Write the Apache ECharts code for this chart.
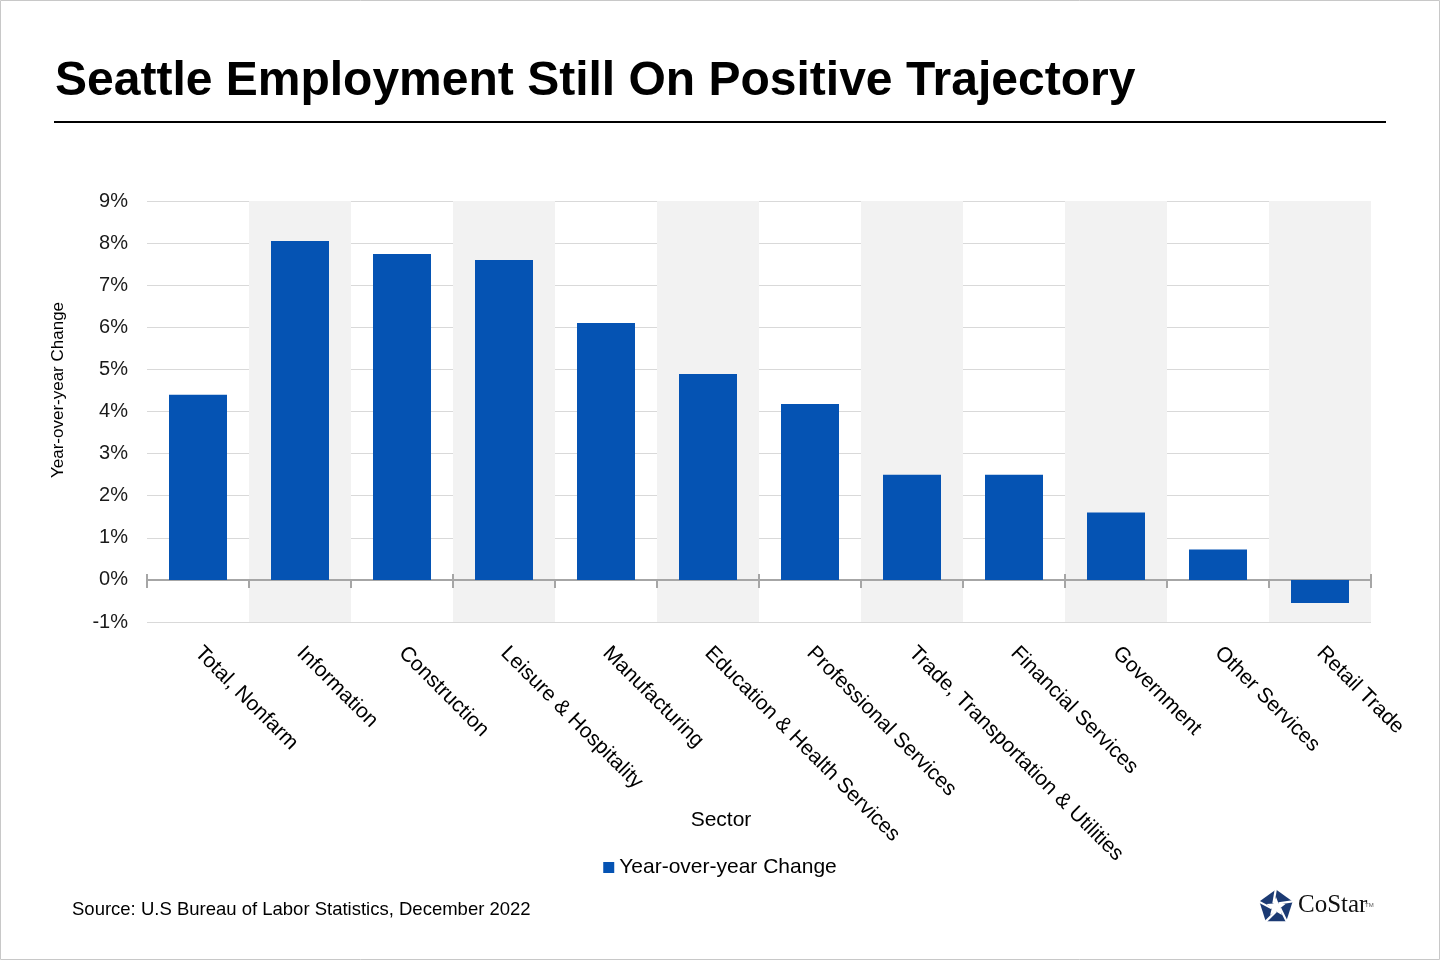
<!DOCTYPE html>
<html><head><meta charset="utf-8">
<script src="https://cdn.jsdelivr.net/npm/echarts@6/dist/echarts.min.js"></script>
<style>html,body{margin:0;padding:0;background:#fff}#c{width:1440px;height:960px}</style>
</head><body><div id="c"></div>
<script>
const categories = ['Total, Nonfarm','Information','Construction','Leisure & Hospitality','Manufacturing','Education & Health Services','Professional Services','Trade, Transportation & Utilities','Financial Services','Government','Other Services','Retail Trade'];
const yoyChange = [4.4, 8.05, 7.74, 7.6, 6.1, 4.89, 4.18, 2.5, 2.5, 1.6, 0.72, -0.55];
const yTicks = {min: -1, max: 9, interval: 1};

const FONT = 'Liberation Sans, Arial, sans-serif';
const chart = echarts.init(document.getElementById('c'));

const GRID = {left: 147, right: 69, top: 201, bottom: 338};
const gridH = 960 - GRID.top - GRID.bottom;
const zeroOffset = -gridH * (yTicks.max - 0) / (yTicks.max - yTicks.min);

function polar(cx, cy, r, deg) {
  const a = deg * Math.PI / 180;
  return [cx + r * Math.cos(a), cy + r * Math.sin(a)];
}
const LC = [1276, 907];
const pent = [0,1,2,3,4].map(k => polar(LC[0], LC[1], 17.5, -90 + 72 * k));
const starPts = [];
for (let k = 0; k < 10; k++) starPts.push(polar(LC[0], LC[1], k % 2 === 0 ? 10 : 4.4, -90 + 36 * k));
const gaps = [0,1,2,3,4].map(k => ({
  type: 'line',
  shape: (() => { const p = polar(LC[0], LC[1], 4.4, -54 + 72 * k); const q = polar(LC[0], LC[1], 19, -90 + 72 * k + 72); return {x1: p[0], y1: p[1], x2: q[0], y2: q[1]}; })(),
  style: {stroke: '#fff', lineWidth: 2.2}
}));

chart.setOption({
  animation: false,
  textStyle: {fontFamily: FONT},
  title: {
    text: 'Seattle Employment Still On Positive Trajectory',
    left: 50, top: 53,
    textStyle: {fontFamily: FONT, fontSize: 48, fontWeight: 'bold', color: '#000'}
  },
  legend: {
    data: ['Year-over-year Change'],
    left: 'center', top: 852,
    icon: 'rect', itemWidth: 11, itemHeight: 11, itemGap: 6,
    textStyle: {fontFamily: FONT, fontSize: 21, color: '#000'}
  },
  grid: {left: GRID.left, right: GRID.right, top: GRID.top, bottom: GRID.bottom, containLabel: false},
  xAxis: [{
    type: 'category',
    data: categories,
    axisLine: {onZero: true, lineStyle: {color: '#a6a6a6', width: 2}},
    axisTick: {show: true, length: 8, lineStyle: {color: '#a6a6a6', width: 2}},
    axisLabel: {rotate: -45, margin: 28, fontSize: 21, color: '#000', fontFamily: FONT, interval: 0},
    splitArea: {show: true, interval: 0, areaStyle: {color: ['rgba(255,255,255,0)', '#f2f2f2']}},
    splitLine: {show: false}
  }, {
    type: 'category',
    data: categories,
    position: 'top',
    offset: zeroOffset,
    axisLine: {show: false, onZero: false},
    axisTick: {show: true, length: 6, lineStyle: {color: '#a6a6a6', width: 2}},
    axisLabel: {show: false},
    splitLine: {show: false}
  }],
  yAxis: {
    type: 'value',
    min: yTicks.min, max: yTicks.max, interval: yTicks.interval,
    axisLine: {show: false},
    axisTick: {show: false},
    axisLabel: {formatter: v => v + '%', fontSize: 20, color: '#1a1a1a', margin: 19, fontFamily: FONT},
    splitLine: {lineStyle: {color: '#d9d9d9', width: 1}}
  },
  series: [{
    name: 'Year-over-year Change',
    type: 'bar',
    data: yoyChange,
    barWidth: 58,
    itemStyle: {color: '#0553b3'}
  }],
  graphic: [
    {type: 'rect', shape: {x: 0.5, y: 0.5, width: 1439, height: 959}, style: {fill: 'none', stroke: '#c8c8c8', lineWidth: 1}, silent: true, z: 100},
    {type: 'line', shape: {x1: 54, y1: 122, x2: 1386, y2: 122}, style: {stroke: '#000', lineWidth: 2}},
    {type: 'text', x: 58, y: 390, rotation: Math.PI / 2, style: {text: 'Year-over-year Change', font: '17px ' + FONT, fill: '#000', align: 'center', verticalAlign: 'middle'}},
    {type: 'text', x: 721, y: 820, style: {text: 'Sector', font: '21px ' + FONT, fill: '#000', align: 'center', verticalAlign: 'middle'}},
    {type: 'text', x: 72, y: 910, style: {text: 'Source: U.S Bureau of Labor Statistics, December 2022', font: '18.5px ' + FONT, fill: '#000', verticalAlign: 'middle'}},
    {type: 'polygon', shape: {points: pent}, style: {fill: '#1b3a73'}},
    {type: 'polygon', shape: {points: starPts}, style: {fill: '#fff'}},
    ...gaps,
    {type: 'text', left: 1298, top: 893, style: {text: 'CoStar', font: '25px "Liberation Serif", "Times New Roman", serif', fill: '#111'}},
    {type: 'text', left: 1365, top: 902, style: {text: 'TM', font: '6px ' + FONT, fill: '#555'}}
  ]
});
</script>
</body></html>
